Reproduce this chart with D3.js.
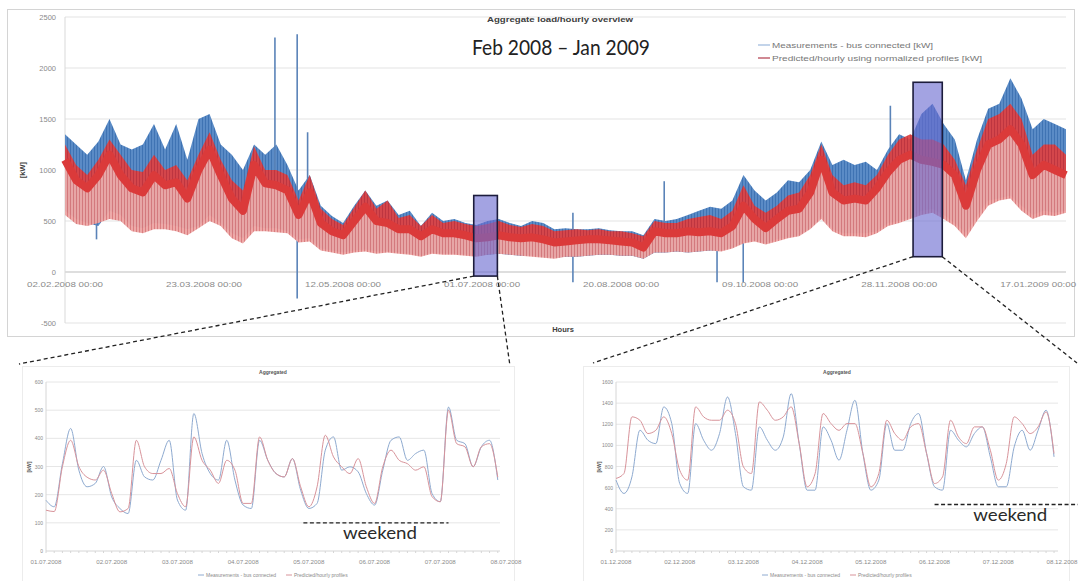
<!DOCTYPE html>
<html>
<head>
<meta charset="utf-8">
<script src="https://d3js.org/d3.v7.min.js"></script>
<style>
  body { margin: 0; background: #fff; }
  svg { display: block; font-family: "Liberation Sans", Arial, sans-serif; }
</style>
</head>
<body>
<svg id="vis"></svg>
<script>
    // ---- data: whole year, one reading every 4 days (envelope of the hourly band) ----
    const bandStart = '2008-02-02 00:00'
    const bandStepDays = 4
    const measHigh = [1350,1250,1150,1280,1500,1250,1200,1250,1450,1200,1450,1100,1500,1550,1250,1150,1000,1250,1150,1250,1050,800,950,650,550,480,650,800,650,700,560,600,450,580,500,520,480,460,500,520,480,450,500,480,420,
                      430,420,420,430,410,400,400,360,520,500,520,560,600,640,620,700,950,800,700,780,900,880,1000,1280,1050,1100,1050,1080,1000,1200,1350,1300,1550,1650,1450,1300,900,1300,1600,1650,1900,1700,1400,1500,1450,1400]
    const measLow = [600,520,480,450,600,560,450,430,480,470,450,420,450,560,480,380,330,450,430,430,400,320,330,230,210,190,210,220,200,200,190,180,160,190,180,180,170,160,170,180,170,160,160,150,140,
                     150,150,160,170,170,160,160,130,190,190,200,190,200,210,210,240,290,310,280,320,340,360,430,540,420,380,380,380,400,480,500,530,600,620,560,480,380,550,700,720,750,650,560,600,580,600]
    const predHigh = [1250,1050,950,1100,1300,1150,1000,980,1150,1000,1050,900,1150,1370,1100,900,800,1230,1000,1000,950,700,950,620,520,460,630,800,620,700,530,560,450,560,480,500,470,450,470,500,460,440,470,450,400,
                      410,420,410,420,400,400,380,350,500,480,480,520,540,560,520,600,850,650,580,650,750,780,950,1250,950,850,880,850,950,1150,1300,1350,1300,1300,1250,1100,850,1200,1500,1550,1650,1500,1150,1250,1250,1150]
    const predCore = [1100,900,820,950,1150,950,820,780,950,850,880,720,1000,1200,950,720,600,1050,870,850,800,560,780,480,400,360,500,640,500,480,420,420,350,420,380,380,360,330,340,360,340,330,340,320,290,
                      300,310,320,320,310,300,290,240,400,380,380,400,390,400,380,450,650,520,430,520,600,620,780,1100,780,700,720,700,820,980,1100,1150,1100,1080,1050,950,650,1000,1250,1300,1400,1250,950,1050,1000,950]
    const predLow = [560,470,450,480,520,500,400,380,420,420,400,360,430,500,450,330,280,400,400,390,380,290,300,210,190,170,190,200,180,190,180,170,150,180,170,170,160,150,170,180,170,160,150,140,130,
                     150,150,160,170,170,160,160,130,190,190,200,190,200,210,200,230,280,300,270,300,330,350,420,520,400,350,350,340,380,450,480,520,560,580,520,450,330,500,650,700,720,600,520,560,550,580]

    // single-hour outliers in the measurements
    const spikeDates = ['2008-02-13 08:00','2008-04-17 12:00','2008-04-25 12:00','2008-04-29 06:00','2008-08-02 16:00','2008-09-04 12:00','2008-09-23 12:00','2008-10-02 22:00','2008-11-24 20:00']
    const spikeLow  = [320, 700, -260, 400, -100, 300, -100, -100, 700]
    const spikeHigh = [800, 2300, 2330, 1370, 580, 890, 300, 550, 1630]

    const yTicksMain = [-500, 0, 500, 1000, 1500, 2000, 2500]
    const xTicksMain = ['2008-02-02 00:00','2008-03-23 00:00','2008-05-12 00:00','2008-07-01 00:00','2008-08-20 00:00','2008-10-09 00:00','2008-11-28 00:00','2009-01-17 00:00']

    // zoom boxes
    const boxFrom = ['2008-06-28 00:00', '2008-12-03 00:00']
    const boxTo   = ['2008-07-06 12:00', '2008-12-13 12:00']
    const boxLow  = [-40, 150]
    const boxHigh = [750, 1860]

    // ---- data: two detail weeks, every 3 hours ----
    const julStart = '2008-07-01 00:00'
    const julMeas = [180,157,310,435,287,228,240,300, 192,151,133,322,263,252,322,393, 181,145,488,346,275,252,393,252, 163,151,393,322,275,263,328,216,
                     151,169,358,405,287,299,281,204, 163,287,393,405,322,346,358,204, 175,511,393,381,299,370,393,252]
    const julPred = [145,140,300,393,300,262,252,287, 204,139,151,393,299,275,275,293, 204,157,405,322,287,240,322,287, 169,169,405,322,275,263,328,228,
                     157,228,411,334,299,275,328,228, 169,299,358,322,310,287,299,193, 175,500,381,370,299,370,381,262]
    const julTicks = [0, 100, 200, 300, 400, 500, 600]

    const decStart = '2008-12-01 00:00'
    const decMeas = [671,545,702,1143,1049,1017,1364,1206, 639,545,1206,1049,954,1112,1458,1112, 608,576,1175,1049,954,1080,1490,1017, 576,576,1175,1049,860,1143,1427,923,
                     576,671,1206,954,954,1206,1301,923, 608,576,1143,1049,986,1112,1175,891, 608,608,986,1143,954,1143,1333,891]
    const decPred = [687,734,1270,1238,1112,1143,1270,1112, 765,671,1364,1270,1238,1238,1333,1206, 797,734,1411,1333,1238,1270,1364,1017, 608,734,1301,1206,1143,1206,1206,923,
                     608,734,1238,1112,1049,1175,1206,923, 639,702,1238,1080,1017,1175,1175,954, 671,828,1270,1206,1112,1175,1317,923]
    const decTicks = [0, 200, 400, 600, 800, 1000, 1200, 1400, 1600]

    const julWeekend = ['2008-07-04 22:00', '2008-07-07 03:00']
    const decWeekend = ['2008-12-06 00:00', '2008-12-08 06:00']

    const legendMain = ['Measurements - bus connected [kW]', 'Predicted/hourly using normalized profiles [kW]']
    const legendZoom = ['Measurements - bus connected', 'Predicted/hourly profiles']

    // ------------------------------------------------------------------
    const parse = d3.timeParse('%Y-%m-%d %H:%M')
    const red = '#db3a3a'

    let svg = d3.select('#vis')
        .attr('width', 1081)
        .attr('height', 581)

    // vertical hatching, gives the bands the look of dense hourly lines
    let defs = svg.append('defs')
    function hatch(id, base, stripe) {
        let p = defs.append('pattern')
            .attr('id', id)
            .attr('patternUnits', 'userSpaceOnUse')
            .attr('width', 3).attr('height', 8)
        p.append('rect').attr('width', 3).attr('height', 8).attr('fill', base)
        p.append('rect').attr('x', 1).attr('width', 1).attr('height', 8).attr('fill', stripe)
    }
    hatch('hBlue', '#5a8bc6', '#3f73b3')
    hatch('hPink', '#eda7a5', '#d9797b')
    hatch('hRed', '#de4040', '#c93036')

    // main frame
    svg.append('rect')
        .attr('x', 7.5).attr('y', 9.5)
        .attr('width', 1067).attr('height', 327)
        .attr('fill', 'none')
        .attr('stroke', '#d4d4d4')

    let x = d3.scaleTime()
        .domain([parse('2008-02-02 00:00'), parse('2009-01-27 00:00')])
        .range([65, 1066])
    let y = d3.scaleLinear()
        .domain([-500, 2500])
        .range([323, 17])

    svg.selectAll('.grid')
        .data(yTicksMain)
        .enter().append('line')
        .attr('x1', 65).attr('x2', 1066)
        .attr('y1', d => y(d)).attr('y2', d => y(d))
        .attr('stroke', d => d === 0 ? '#bdbdbd' : '#e3e3e3')

    svg.append('line')
        .attr('x1', 65).attr('x2', 65)
        .attr('y1', y(2500)).attr('y2', y(-500))
        .attr('stroke', '#d9d9d9')

    svg.selectAll('.ylab')
        .data(yTicksMain)
        .enter().append('text')
        .attr('x', 56)
        .attr('y', d => y(d) + 3)
        .attr('text-anchor', 'end')
        .style('font-size', '7.5px')
        .attr('fill', '#8a8a8a')
        .text(d => d)

    let band = measHigh.map((v, i) => ({
        date: d3.timeDay.offset(parse(bandStart), i * bandStepDays),
        mHi: v, mLo: measLow[i], pHi: predHigh[i], pMid: predCore[i], pLo: predLow[i]
    }))

    // measurements band
    svg.append('path')
        .datum(band)
        .attr('fill', 'url(#hBlue)')
        .attr('d', d3.area().x(d => x(d.date)).y0(d => y(d.mLo)).y1(d => y(d.mHi)))

    // outliers
    svg.selectAll('.spike')
        .data(spikeDates)
        .enter().append('line')
        .attr('x1', d => x(parse(d))).attr('x2', d => x(parse(d)))
        .attr('y1', (d, i) => y(spikeLow[i]))
        .attr('y2', (d, i) => y(spikeHigh[i]))
        .attr('stroke', '#5a83b8')
        .attr('stroke-width', 1.6)

    // predicted band: pale lower half, strong upper half, thick core
    svg.append('path')
        .datum(band)
        .attr('fill', 'url(#hPink)')
        .attr('fill-opacity', 0.96)
        .attr('d', d3.area().x(d => x(d.date)).y0(d => y(d.pLo)).y1(d => y(d.pMid)))

    svg.append('path')
        .datum(band)
        .attr('fill', 'url(#hRed)')
        .attr('fill-opacity', 0.92)
        .attr('d', d3.area().x(d => x(d.date)).y0(d => y(d.pMid)).y1(d => y(d.pHi)))

    svg.append('path')
        .datum(band)
        .attr('fill', 'none')
        .attr('stroke', red)
        .attr('stroke-width', 8)
        .attr('stroke-linejoin', 'round')
        .attr('d', d3.line().x(d => x(d.date)).y(d => y(d.pMid)))

    svg.selectAll('.xlab')
        .data(xTicksMain)
        .enter().append('text')
        .attr('x', d => x(parse(d)))
        .attr('y', y(0) + 15)
        .attr('text-anchor', 'middle')
        .style('font-size', '7.5px')
        .attr('fill', '#8a8a8a')
        .attr('textLength', 76)
        .attr('lengthAdjust', 'spacingAndGlyphs')
        .text(d => d3.timeFormat('%d.%m.%Y %H:%M')(parse(d)))

    // titles and labels
    svg.append('text')
        .attr('x', 560).attr('y', 22)
        .attr('text-anchor', 'middle')
        .style('font-size', '7.5px').style('font-weight', 'bold')
        .attr('fill', '#404040')
        .attr('textLength', 146).attr('lengthAdjust', 'spacingAndGlyphs')
        .text('Aggregate load/hourly overview')

    svg.append('text')
        .attr('x', 561).attr('y', 55)
        .attr('text-anchor', 'middle')
        .style('font-family', 'Lato, "Open Sans", sans-serif')
        .style('font-size', '21px')
        .attr('fill', '#222')
        .attr('textLength', 178).attr('lengthAdjust', 'spacingAndGlyphs')
        .text('Feb 2008 – Jan 2009')

    svg.append('text')
        .attr('transform', 'translate(25,' + y(1000) + ') rotate(-90)')
        .attr('text-anchor', 'middle')
        .style('font-size', '7.5px').style('font-weight', 'bold')
        .attr('fill', '#404040')
        .text('[kW]')

    svg.append('text')
        .attr('x', 563).attr('y', 332)
        .attr('text-anchor', 'middle')
        .style('font-size', '7.5px').style('font-weight', 'bold')
        .attr('fill', '#404040')
        .text('Hours')

    // main legend
    let legColors = ['#9bb8dc', '#b03a4a']
    let legWidths = [161, 210]
    legendMain.forEach((t, i) => {
        svg.append('line')
            .attr('x1', 758).attr('x2', 770)
            .attr('y1', 45 + i * 13).attr('y2', 45 + i * 13)
            .attr('stroke', legColors[i]).attr('stroke-width', 1.2)
        svg.append('text')
            .attr('x', 772).attr('y', 48 + i * 13)
            .style('font-size', '7px')
            .attr('fill', '#777')
            .attr('textLength', legWidths[i]).attr('lengthAdjust', 'spacingAndGlyphs')
            .text(t)
    })

    // ---- detail panels ----
    function drawDetail(p) {
        let g = svg.append('g')
        g.append('rect')
            .attr('x', p.frame[0] + 0.5).attr('y', 366.5)
            .attr('width', p.frame[1] - p.frame[0]).attr('height', 220)
            .attr('fill', 'none').attr('stroke', '#ececec')

        let t0 = parse(p.start)
        let xs = d3.scaleTime().domain([t0, d3.timeDay.offset(t0, 7)]).range(p.range)
        let ys = d3.scaleLinear().domain([0, p.ticks[p.ticks.length - 1]]).range([551, 382])

        g.selectAll('.g').data(p.ticks.slice(1)).enter().append('line')
            .attr('x1', p.range[0]).attr('x2', p.gridEnd)
            .attr('y1', d => ys(d)).attr('y2', d => ys(d))
            .attr('stroke', '#e6e6e6')
        g.append('line')
            .attr('x1', p.range[0]).attr('x2', p.range[0])
            .attr('y1', 382).attr('y2', 551).attr('stroke', '#d6d6d6')
        g.append('line')
            .attr('x1', p.range[0]).attr('x2', p.gridEnd)
            .attr('y1', 551).attr('y2', 551).attr('stroke', '#d6d6d6')

        // minor ticks along the time axis
        g.selectAll('.mt').data(d3.timeHour.range(t0, d3.timeDay.offset(t0, 7), 3)).enter().append('line')
            .attr('x1', d => xs(d)).attr('x2', d => xs(d))
            .attr('y1', 551).attr('y2', 553).attr('stroke', '#d6d6d6')

        g.selectAll('.yl').data(p.ticks).enter().append('text')
            .attr('x', p.range[0] - 3).attr('y', d => ys(d) + 2)
            .attr('text-anchor', 'end')
            .style('font-size', '5px').attr('fill', '#8a8a8a')
            .text(d => d)

        g.selectAll('.xl').data(d3.timeDay.range(t0, d3.timeDay.offset(t0, 8))).enter().append('text')
            .attr('x', d => xs(d)).attr('y', 564)
            .attr('text-anchor', 'middle')
            .style('font-size', '5px').attr('fill', '#8a8a8a')
            .attr('textLength', 31).attr('lengthAdjust', 'spacingAndGlyphs')
            .text(d => d3.timeFormat('%d.%m.%Y')(d))

        let mid = (p.range[0] + p.gridEnd) / 2
        g.append('text')
            .attr('x', mid).attr('y', 374)
            .attr('text-anchor', 'middle')
            .style('font-size', '5px').style('font-weight', 'bold').attr('fill', '#555')
            .text('Aggregated')
        g.append('text')
            .attr('transform', 'translate(' + (p.range[0] - 15) + ',467) rotate(-90)')
            .attr('text-anchor', 'middle')
            .style('font-size', '5px').style('font-weight', 'bold').attr('fill', '#555')
            .text('[kW]')

        let line = d3.line()
            .x((d, i) => xs(d3.timeHour.offset(t0, i * 3)))
            .y(d => ys(d))
            .curve(d3.curveMonotoneX)
        g.append('path').datum(p.meas)
            .attr('fill', 'none').attr('stroke', '#8eaad0').attr('stroke-width', 1)
            .attr('d', line)
        g.append('path').datum(p.pred)
            .attr('fill', 'none').attr('stroke', '#d8939a').attr('stroke-width', 1)
            .attr('d', line)

        // legend
        let lc = ['#8eaad0', '#d8939a']
        legendZoom.forEach((t, i) => {
            let lx = mid - 75 + i * 88
            g.append('line')
                .attr('x1', lx).attr('x2', lx + 6)
                .attr('y1', 575).attr('y2', 575)
                .attr('stroke', lc[i])
            g.append('text')
                .attr('x', lx + 8).attr('y', 577)
                .style('font-size', '5px').attr('fill', '#8a8a8a')
                .text(t)
        })

        // weekend marker
        let wx0 = xs(parse(p.weekend[0])), wx1 = xs(parse(p.weekend[1]))
        g.append('line')
            .attr('x1', wx0).attr('x2', wx1)
            .attr('y1', ys(p.weekendAt)).attr('y2', ys(p.weekendAt))
            .attr('stroke', '#222').attr('stroke-width', 1.4)
            .attr('stroke-dasharray', '4,2.5')
        g.append('text')
            .attr('x', (wx0 + wx1) / 2 + 4).attr('y', ys(p.weekendAt) + 16)
            .attr('text-anchor', 'middle')
            .style('font-family', 'Lato, "Open Sans", sans-serif')
            .style('font-size', '17px').attr('fill', '#2a2a2a')
            .attr('textLength', 74).attr('lengthAdjust', 'spacingAndGlyphs')
            .text('weekend')
    }

    drawDetail({ frame: [22, 514], range: [46, 506], gridEnd: 500, start: julStart, meas: julMeas, pred: julPred,
                 ticks: julTicks, weekend: julWeekend, weekendAt: 100 })
    drawDetail({ frame: [583, 1069], range: [616, 1062], gridEnd: 1058, start: decStart, meas: decMeas, pred: decPred,
                 ticks: decTicks, weekend: decWeekend, weekendAt: 440 })

    // ---- zoom boxes and their connectors ----
    let connectTo = [[19, 364, 510, 366], [593, 363, 1077, 363]]
    boxFrom.forEach((f, i) => {
        let bx0 = x(parse(f)), bx1 = x(parse(boxTo[i]))
        let by0 = y(boxHigh[i]), by1 = y(boxLow[i])
        svg.append('rect')
            .attr('x', bx0).attr('y', by0)
            .attr('width', bx1 - bx0).attr('height', by1 - by0)
            .attr('fill', '#6b6bd0').attr('fill-opacity', 0.62)
            .attr('stroke', '#1c1c3c').attr('stroke-width', 1.6)
        let c = connectTo[i]
        svg.append('line')
            .attr('x1', bx0).attr('y1', by1).attr('x2', c[0]).attr('y2', c[1])
            .attr('stroke', '#222').attr('stroke-width', 1.3).attr('stroke-dasharray', '4,3')
        svg.append('line')
            .attr('x1', bx1).attr('y1', by1).attr('x2', c[2]).attr('y2', c[3])
            .attr('stroke', '#222').attr('stroke-width', 1.3).attr('stroke-dasharray', '4,3')
    })
</script>
</body>
</html>
